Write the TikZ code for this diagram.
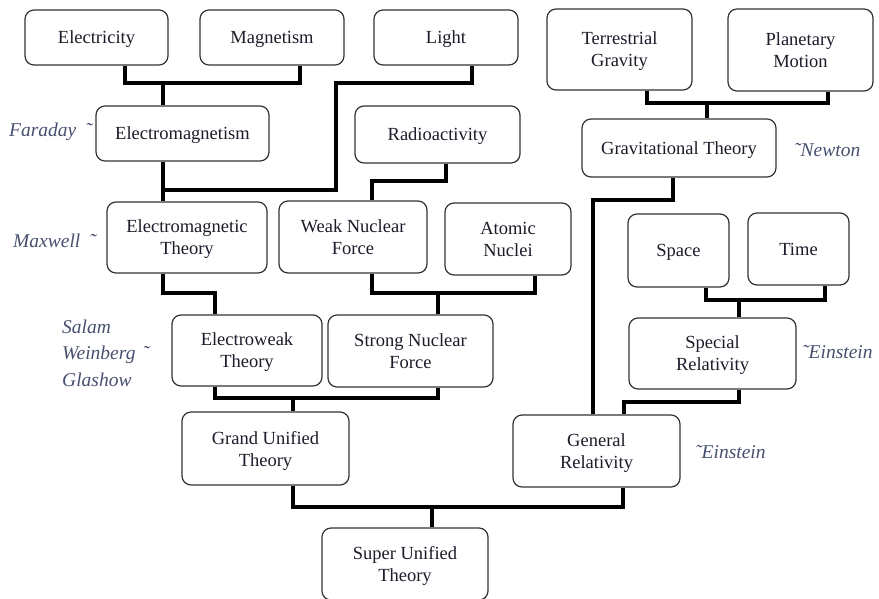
\documentclass[tikz,border=0pt]{standalone}
\usepackage{fontspec}
\setmainfont{Liberation Serif}
\definecolor{boxtext}{HTML}{1C1C2A}
\definecolor{nametext}{HTML}{46506E}

\begin{document}
\begin{tikzpicture}[x=1pt,y=-1pt,line join=miter,
  box node/.style={rectangle,rounded corners=9pt,draw=black!80,line width=1.2pt,fill=white,
    text=boxtext,align=center,inner sep=0pt,text depth=-2pt,font=\fontsize{18.5}{22}\selectfont},
  name node/.style={text=nametext,font=\fontsize{19.5}{26.5}\selectfont\itshape,
    inner sep=0pt,anchor=west,align=left},
  link/.style={line width=3.4pt,black}]

  \useasboundingbox (0,0) rectangle (879,598);

  \node[box node,minimum width=143pt,minimum height=55pt] (elec) at (96.5,37.5) {Electricity};
  \node[box node,minimum width=144pt,minimum height=55pt] (magn) at (272,37.5) {Magnetism};
  \node[box node,minimum width=144pt,minimum height=55pt] (light) at (446,37.5) {Light};
  \node[box node,minimum width=145pt,minimum height=81pt] (terr) at (619.5,49.5) {Terrestrial\\Gravity};
  \node[box node,minimum width=145pt,minimum height=82pt] (plan) at (800.5,50) {Planetary\\Motion};
  \node[box node,minimum width=173pt,minimum height=55pt] (emag) at (182.5,133.5) {Electromagnetism};
  \node[box node,minimum width=165pt,minimum height=57pt] (radio) at (437.5,134.5) {Radioactivity};
  \node[box node,minimum width=194pt,minimum height=58pt] (grav) at (679,148) {Gravitational Theory};
  \node[box node,minimum width=160pt,minimum height=71pt] (emt) at (187,237.5) {Electromagnetic\\Theory};
  \node[box node,minimum width=148pt,minimum height=72pt] (weak) at (353,237) {Weak Nuclear\\Force};
  \node[box node,minimum width=126pt,minimum height=72pt] (atom) at (508,239) {Atomic\\Nuclei};
  \node[box node,minimum width=101pt,minimum height=73pt] (space) at (678.5,250.5) {Space};
  \node[box node,minimum width=101pt,minimum height=72pt] (time) at (798.5,249) {Time};
  \node[box node,minimum width=150pt,minimum height=71pt] (ew) at (247,350.5) {Electroweak\\Theory};
  \node[box node,minimum width=165pt,minimum height=72pt] (strong) at (410.5,351) {Strong Nuclear\\Force};
  \node[box node,minimum width=167pt,minimum height=71pt] (sr) at (712.5,353.5) {Special\\Relativity};
  \node[box node,minimum width=167pt,minimum height=73pt] (gut) at (265.5,448.5) {Grand Unified\\Theory};
  \node[box node,minimum width=167pt,minimum height=72pt] (gr) at (596.5,451) {General\\Relativity};
  \node[box node,minimum width=166pt,minimum height=72pt] (sut) at (405,564) {Super Unified\\Theory};

  \node[name node] (faraday) at (9,132) {Faraday\hspace{9pt}˜};
  \node[name node] (maxwell) at (13,241) {Maxwell\hspace{9pt}˜};
  \node[name node] (salam) at (62,353) {Salam\\Weinberg\hspace{7pt}˜\\Glashow};
  \node[name node] (newton) at (794,150) {˜Newton};
  \node[name node] (einstein1) at (802,352) {˜Einstein};
  \node[name node] (einstein2) at (695,452) {˜Einstein};

  % forks
  \coordinate (j1) at (163,83);
  \coordinate (j2) at (163,190);
  \coordinate (l1) at (336,83);
  \coordinate (j3) at (707,103);
  \coordinate (g1) at (593,200);
  \coordinate (r1) at (372,181);
  \coordinate (j4) at (438,293);
  \coordinate (m1) at (215,293);
  \coordinate (j5) at (293,398);
  \coordinate (j6) at (739,300);
  \coordinate (s1) at (624,402);
  \coordinate (j7) at (432,507);

  \draw[link] ([xshift=28.5pt]elec.south) |- (j1) -| ([xshift=28pt]magn.south);
  \draw[link] (j1) -- (j1 |- emag.north);
  \draw[link] ([xshift=26pt]light.south) |- (l1) |- (j2);
  \draw[link] (j2 |- emag.south) -- (j2 |- emt.north);
  \draw[link] ([xshift=27.5pt]terr.south) |- (j3) -| ([xshift=27.5pt]plan.south);
  \draw[link] (j3) -- (j3 |- grav.north);
  \draw[link] ([xshift=-6pt]grav.south) |- (g1) -- (g1 |- gr.north);
  \draw[link] ([xshift=8.5pt]radio.south) |- (r1) -- (r1 |- weak.north);
  \draw[link] ([xshift=19pt]weak.south) |- (j4) -| ([xshift=27pt]atom.south);
  \draw[link] (j4) -- (j4 |- strong.north);
  \draw[link] ([xshift=-24pt]emt.south) |- (m1) -- (m1 |- ew.north);
  \draw[link] ([xshift=-32pt]ew.south) |- (j5) -| ([xshift=27.5pt]strong.south);
  \draw[link] (j5) -- (j5 |- gut.north);
  \draw[link] ([xshift=27.5pt]space.south) |- (j6) -| ([xshift=26.5pt]time.south);
  \draw[link] (j6) -- (j6 |- sr.north);
  \draw[link] ([xshift=26.5pt]sr.south) |- (s1) -- (s1 |- gr.north);
  \draw[link] ([xshift=27.5pt]gut.south) |- (j7) -| ([xshift=26.5pt]gr.south);
  \draw[link] (j7) -- (j7 |- sut.north);
\end{tikzpicture}
\end{document}
